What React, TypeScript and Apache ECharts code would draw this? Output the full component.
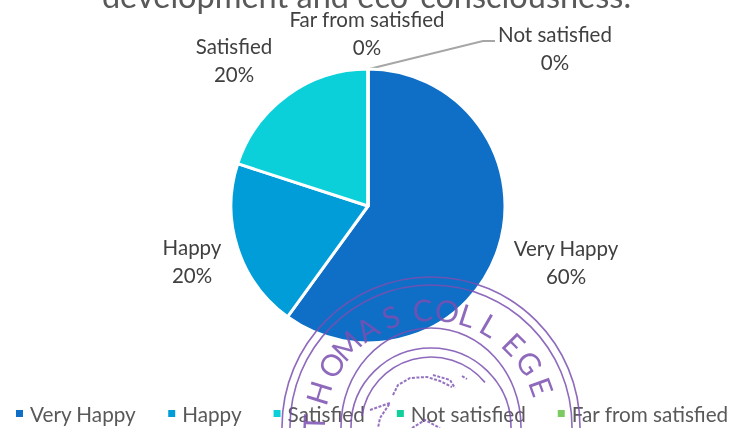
import React, { useEffect, useRef } from "react";
import * as echarts from "echarts";

const categories = ["Very Happy", "Happy", "Satisfied", "Not satisfied", "Far from satisfied"];
const values = [60, 20, 20, 0, 0];
const colors = ["#0F6FC6", "#009DD9", "#0BD0D9", "#10CF9B", "#7CCA62"];
const titleText = "development and eco-consciousness.";
const labelPositions: [number, number][] = [
  [566, 262],
  [192, 261],
  [234, 60],
  [555, 48],
  [367, 33],
];
const stampLetters = ["T", "H", "O", "M", "A", "S", "C", "O", "L", "L", "E", "G", "E"];
const stampAngles = [-88, -73, -58, -46, -33, -20, -4, 8, 18, 30, 45, 57, 70];
const stampRadii: [number, number][] = [
  [149, 150],
  [141, 142],
  [90, 99],
  [80, 79],
];
const stampScribbles: [number, number][][] = [
  [[393, 395], [398, 385], [410, 378], [427, 377], [440, 381], [452, 387]],
  [[433, 375], [450, 380], [455, 388]],
  [[462, 376], [467, 379]],
  [[370, 410], [390, 403], [380, 418], [378, 428]],
  [[412, 428], [425, 420], [440, 428]],
];
const FONT = "Lato, Carlito, 'Open Sans', sans-serif";
const STAMP = "#7A4FB0";

export default function App() {
  const ref = useRef<HTMLDivElement>(null);
  useEffect(() => {
    const chart = echarts.init(ref.current!, undefined, { renderer: "svg" });
    const cx = 431;
    const cy = 427;
    const stamp: any[] = stampRadii.map(([rx, ry]) => ({
      type: "ellipse",
      shape: { cx, cy, rx, ry },
      z: 100,
      style: { fill: "none", stroke: STAMP, lineWidth: 1.6, opacity: 0.85 },
    }));
    stamp.push({
      type: "arc",
      shape: { cx, cy, r: 70, startAngle: -Math.PI * 0.95, endAngle: -Math.PI * 0.22 },
      z: 100,
      style: { fill: "none", stroke: STAMP, lineWidth: 1.6, opacity: 0.85 },
    });
    stampScribbles.forEach((points) => {
      stamp.push({
        type: "polyline",
        shape: { points },
        z: 100,
        style: { fill: "none", stroke: STAMP, lineWidth: 2, lineDash: [3, 1.5], opacity: 0.8 },
      });
    });
    stampLetters.forEach((ch, i) => {
      const a = (stampAngles[i] * Math.PI) / 180;
      stamp.push({
        type: "text",
        x: cx + 118 * Math.sin(a),
        y: cy - 118 * Math.cos(a),
        rotation: -a,
        z: 100,
        style: {
          text: ch,
          fill: STAMP,
          font: `30px ${FONT}`,
          align: "center",
          verticalAlign: "middle",
          opacity: 0.85,
        },
      });
    });
    chart.setOption({
      animation: false,
      color: colors,
      title: {
        text: titleText,
        left: "center",
        top: -26,
        textStyle: { fontFamily: FONT, fontSize: 32.5, fontWeight: "normal", color: "#595959" },
      },
      legend: {
        bottom: 4,
        left: 14,
        width: 760,
        itemWidth: 9,
        itemHeight: 9,
        itemGap: 30,
        icon: "rect",
        padding: 0,
        textStyle: { fontFamily: FONT, fontSize: 20.7, color: "#595959", padding: [0, 0, 0, 1] },
        data: categories,
      },
      series: [
        {
          type: "pie",
          center: [368, 206],
          radius: [0, 137],
          startAngle: 90,
          clockwise: true,
          stillShowZeroSum: true,
          minShowLabelAngle: 0,
          avoidLabelOverlap: false,
          itemStyle: { borderColor: "#fff", borderWidth: 3 },
          label: {
            show: true,
            formatter: "{b}\n{d}%",
            fontFamily: FONT,
            fontSize: 20.5,
            lineHeight: 28,
            color: "#404040",
            align: "center",
          },
          labelLine: { show: false },
          labelLayout: (p: any) => {
            const pos = labelPositions[p.dataIndex];
            const base: any = { x: pos[0], y: pos[1], align: "center", verticalAlign: "middle" };
            if (p.dataIndex === 3) {
              base.labelLinePoints = [
                [369, 69],
                [483, 41],
                [495, 41],
              ];
            }
            return base;
          },
          data: categories.map((name, i) => ({
            name,
            value: values[i],
            labelLine:
              i === 3
                ? { show: true, length: 30, length2: 12, lineStyle: { color: "#A6A6A6", width: 2 } }
                : undefined,
          })),
        },
      ],
      graphic: stamp,
    });
    return () => chart.dispose();
  }, []);
  return <div ref={ref} style={{ position: "fixed", left: 0, top: 0, width: 733, height: 428 }} />;
}
